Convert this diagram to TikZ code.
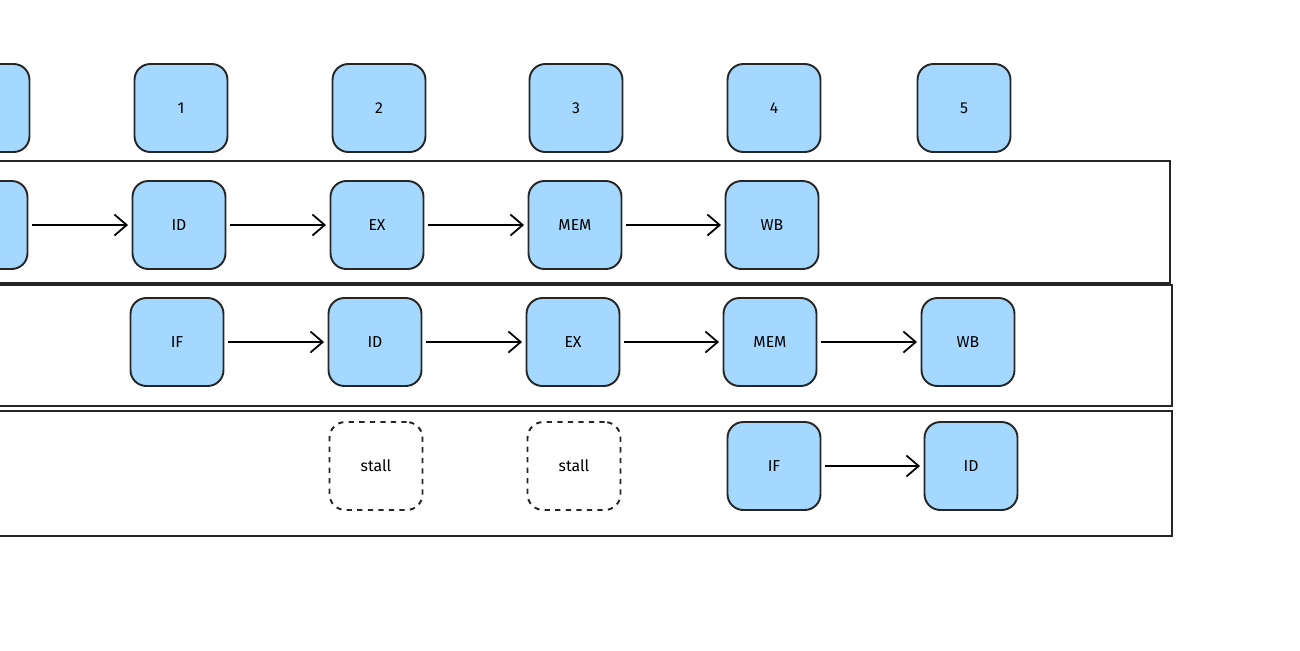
\documentclass[tikz,border=0pt]{standalone}
\usepackage{fontspec}
\setmainfont{Fira Sans}
\usetikzlibrary{arrows.meta}
\definecolor{boxblue}{HTML}{A5D8FF}
\tikzset{
  stage/.style={draw=black!85,line width=1.1pt,fill=boxblue,rounded corners=9pt,
    minimum width=1.86cm,minimum height=1.76cm,font=\small},
  stall/.style={stage,fill=none,dashed},
  flow/.style={-{Straight Barb[length=7pt,width=12pt]},line width=1pt,shorten >=2pt,shorten <=2pt},
  lane/.style={draw=black!85,line width=1pt}
}
\begin{document}
\begin{tikzpicture}[x=0.02cm,y=-0.02cm]
  \useasboundingbox (0,0) rectangle (1300,650);
  \clip (0,0) rectangle (1300,650);
  % lanes
  \draw[lane] (-20,161) rectangle (1170,283);
  \draw[lane] (-20,285) rectangle (1172,406);
  \draw[lane] (-20,411) rectangle (1172,536);
  % cycle numbers
  \node[stage] (c0) at (-17,108) {};
  \node[stage] (c1) at (181,108) {1};
  \node[stage] (c2) at (379,108) {2};
  \node[stage] (c3) at (576,108) {3};
  \node[stage] (c4) at (774,108) {4};
  \node[stage] (c5) at (964,108) {5};
  % first instruction
  \node[stage] (a0) at (-19,225) {};
  \node[stage] (a1) at (179,225) {ID};
  \node[stage] (a2) at (377,225) {EX};
  \node[stage] (a3) at (575,225) {MEM};
  \node[stage] (a4) at (772,225) {WB};
  % second instruction
  \node[stage] (b1) at (177,342) {IF};
  \node[stage] (b2) at (375,342) {ID};
  \node[stage] (b3) at (573,342) {EX};
  \node[stage] (b4) at (770,342) {MEM};
  \node[stage] (b5) at (968,342) {WB};
  % third instruction
  \node[stall] (s1) at (376,466) {stall};
  \node[stall] (s2) at (574,466) {stall};
  \node[stage] (d1) at (774,466) {IF};
  \node[stage] (d2) at (971,466) {ID};
  \foreach \from/\to in {a0/a1,a1/a2,a2/a3,a3/a4,b1/b2,b2/b3,b3/b4,b4/b5,d1/d2}
    \draw[flow] (\from) -- (\to);
\end{tikzpicture}
\end{document}
